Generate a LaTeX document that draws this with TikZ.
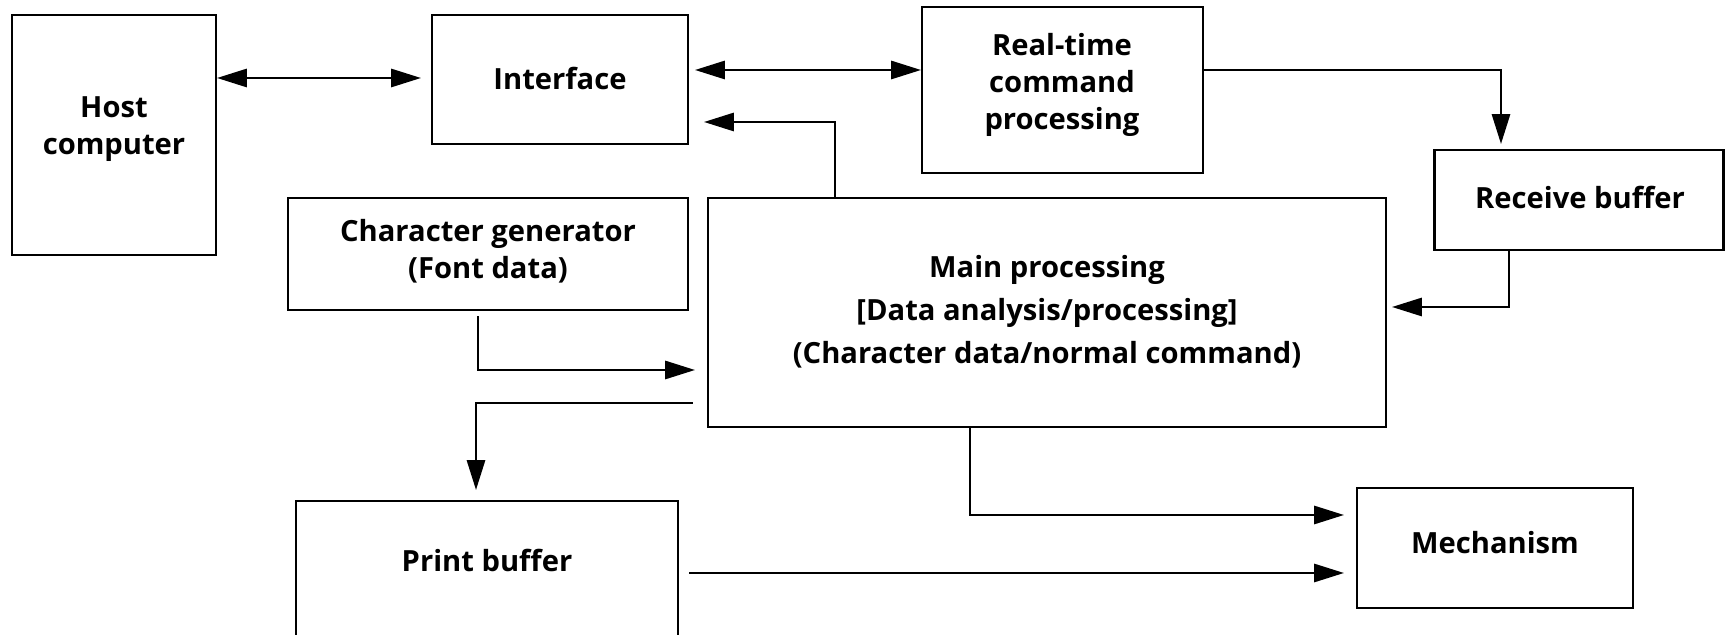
\documentclass[tikz,border=0pt]{standalone}
\usepackage{fontspec}
\setmainfont{Open Sans}
\usetikzlibrary{arrows.meta,calc}
\begin{document}
\begin{tikzpicture}[x=0.1mm,y=-0.1mm,
  box/.style={draw, line width=0.6pt, inner sep=0pt},
  txt/.style={align=center, inner sep=0pt, font=\fontsize{8.3}{10.6}\selectfont\bfseries},
  arr/.style={line width=0.6pt, -{Triangle[length=8.5pt,width=5.2pt]}},
  arrtwo/.style={line width=0.6pt, {Triangle[length=8.5pt,width=5.2pt]}-{Triangle[length=8.5pt,width=5.2pt]}}]
\clip (0,0) rectangle (1726,635);
% boxes
\node[box, minimum width=20.4mm, minimum height=24mm] (host) at (114,135) {};
\node[box, minimum width=25.6mm, minimum height=12.9mm] (interface) at (560,79.5) {};
\node[box, minimum width=28.1mm, minimum height=16.6mm] (rt) at (1062.5,90) {};
\node[box, minimum width=28.9mm, minimum height=10mm] (receive) at (1579,200) {};
\node[box, minimum width=40mm, minimum height=11.2mm] (chargen) at (488,254) {};
\node[box, minimum width=67.8mm, minimum height=22.9mm] (main) at (1047,312.5) {};
\node[box, minimum width=38.2mm, minimum height=15.9mm] (print) at (487,580.5) {};
\node[box, minimum width=27.6mm, minimum height=12mm] (mech) at (1495,548) {};
% texts
\node[txt] (hostt) at (114,129) {Host\\computer};
\node[txt] (interfacet) at (560,78) {Interface};
\node[txt] (rtt) at (1062,85) {Real-time\\command\\processing};
\node[txt] (receivet) at (1580,197) {Receive buffer};
\node[txt] (chargent) at (488,251) {Character generator\\(Font data)};
\node[txt, font=\fontsize{8.3}{12.3}\selectfont\bfseries] (maint) at (1047,312) {Main processing\\{}[Data analysis/processing]\\(Character data/normal command)};
\node[txt] (printt) at (487,560) {Print buffer};
\node[txt] (mecht) at (1495,543) {Mechanism};
% connectors
\draw[arrtwo, shorten >=1mm] (host.east |- 0,78) -- (interface.west |- 0,78);
\draw[arrtwo, shorten <=0.6mm] (interface.east |- 0,70) -- (rt.west |- 0,70);
\draw[arr, shorten >=1.5mm] (main.north -| 835,0) |- (interface.east |- 0,122);
\draw[arr, shorten >=0.5mm] (rt.east |- 0,70) -| (receive.north -| 1501,0);
\draw[arr, shorten >=0.5mm] (receive.south -| 1509,0) |- (main.east |- 0,307);
\draw[arr, shorten <=0.5mm, shorten >=1.2mm] (chargen.south -| 478,0) |- (main.west |- 0,370);
\draw[arr, shorten <=1.4mm, shorten >=1mm] (main.west |- 0,403) -| (print.north -| 476,0);
\draw[arr, shorten >=1.2mm] (main.south -| 970,0) |- (mech.west |- 0,515);
\draw[arr, shorten <=1mm, shorten >=1.2mm] (print.east |- 0,573) -- (mech.west |- 0,573);
\end{tikzpicture}
\end{document}
